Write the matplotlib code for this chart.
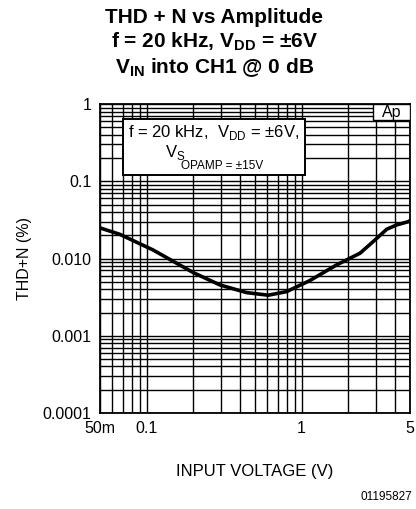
"""THD+N vs amplitude, datasheet-style log-log grid."""
import matplotlib
matplotlib.use("Agg")
import matplotlib.pyplot as plt
from matplotlib.patches import Rectangle
from matplotlib.ticker import FixedLocator, FixedFormatter, LogLocator, NullFormatter

plt.rcParams["font.family"] = ["Liberation Sans", "DejaVu Sans"]
plt.rcParams["mathtext.fontset"] = "custom"
plt.rcParams["mathtext.rm"] = "Liberation Sans"
plt.rcParams["mathtext.bf"] = "Liberation Sans:bold"

# curve (V in, THD+N %)
input_v = [0.05, 0.067, 0.11, 0.2, 0.297, 0.442, 0.609, 0.80, 1.13,
           1.68, 2.38, 2.90, 3.54, 4.10, 4.88, 5.0]
thd_n = [0.0249, 0.0206, 0.0129, 0.00657, 0.00455, 0.00362, 0.00335,
         0.00373, 0.00518, 0.00826, 0.0117, 0.0166, 0.0239, 0.0272,
         0.0300, 0.0310]

x_ticks = [0.05, 0.1, 1, 5]
x_labels = ["50m", "0.1", "1", "5"]
y_ticks = [0.0001, 0.001, 0.01, 0.1, 1]
y_labels = ["0.0001", "0.001", "0.010", "0.1", "1"]

fig = plt.figure(figsize=(4.16, 5.09), dpi=100)
ax = fig.add_axes([0.2404, 0.1886, 0.745, 0.607])

ax.plot(input_v, thd_n, color="black", linewidth=2.6, solid_capstyle="round",
        zorder=3)
ax.set_xscale("log")
ax.set_yscale("log")
ax.set_xlim(0.05, 5)
ax.set_ylim(0.0001, 1)

ax.xaxis.set_major_locator(FixedLocator(x_ticks))
ax.xaxis.set_major_formatter(FixedFormatter(x_labels))
ax.xaxis.set_minor_locator(LogLocator(base=10, subs=range(2, 10), numticks=20))
ax.xaxis.set_minor_formatter(NullFormatter())
ax.yaxis.set_major_locator(FixedLocator(y_ticks))
ax.yaxis.set_major_formatter(FixedFormatter(y_labels))
ax.yaxis.set_minor_locator(LogLocator(base=10, subs=range(2, 10), numticks=20))
ax.yaxis.set_minor_formatter(NullFormatter())

ax.grid(True, which="both", color="black", linewidth=1.0)
ax.tick_params(which="both", length=0, labelsize=11.5, pad=6)
for sp in ax.spines.values():
    sp.set_linewidth(1.3)

ax.set_xlabel("INPUT VOLTAGE (V)", fontsize=12, labelpad=20)
ax.set_ylabel("THD+N (%)", fontsize=11.5, labelpad=8)

# annotation box (axes fractions)
ax.add_patch(Rectangle((0.074, 0.77), 0.587, 0.181, transform=ax.transAxes,
                       facecolor="white", edgecolor="black", linewidth=1.4,
                       zorder=4))
ax.text(0.367, 0.907, "f = 20 kHz,  V$_{\\rm DD}$ = ±6V,",
        transform=ax.transAxes, ha="center", va="center", fontsize=12,
        zorder=5)
ax.text(0.21, 0.842, "V$_{\\rm S}$", transform=ax.transAxes, ha="left",
        va="center", fontsize=12, zorder=5)
ax.text(0.262, 0.80, "OPAMP = ±15V", transform=ax.transAxes, ha="left",
        va="center", fontsize=8.5, zorder=5)

ax.add_patch(Rectangle((0.88, 0.948), 0.12, 0.052, transform=ax.transAxes,
                       facecolor="white", edgecolor="black", linewidth=1.0,
                       zorder=4))
ax.text(0.94, 0.974, "Ap", transform=ax.transAxes, ha="center", va="center",
        fontsize=11.5, zorder=5)

fig.text(0.515, 0.966, "THD + N vs Amplitude", ha="center", va="center",
         fontsize=15, fontweight="bold")
fig.text(0.515, 0.917, r"f = 20 kHz, $\mathbf{V_{DD}}$ = ±6V", ha="center",
         va="center", fontsize=15, fontweight="bold")
fig.text(0.515, 0.868, r"$\mathbf{V_{IN}}$ into CH1 @ 0 dB", ha="center",
         va="center", fontsize=15, fontweight="bold")
fig.text(0.99, 0.023, "01195827", ha="right", va="center", fontsize=8.5)

fig.savefig("out.png", dpi=100)
